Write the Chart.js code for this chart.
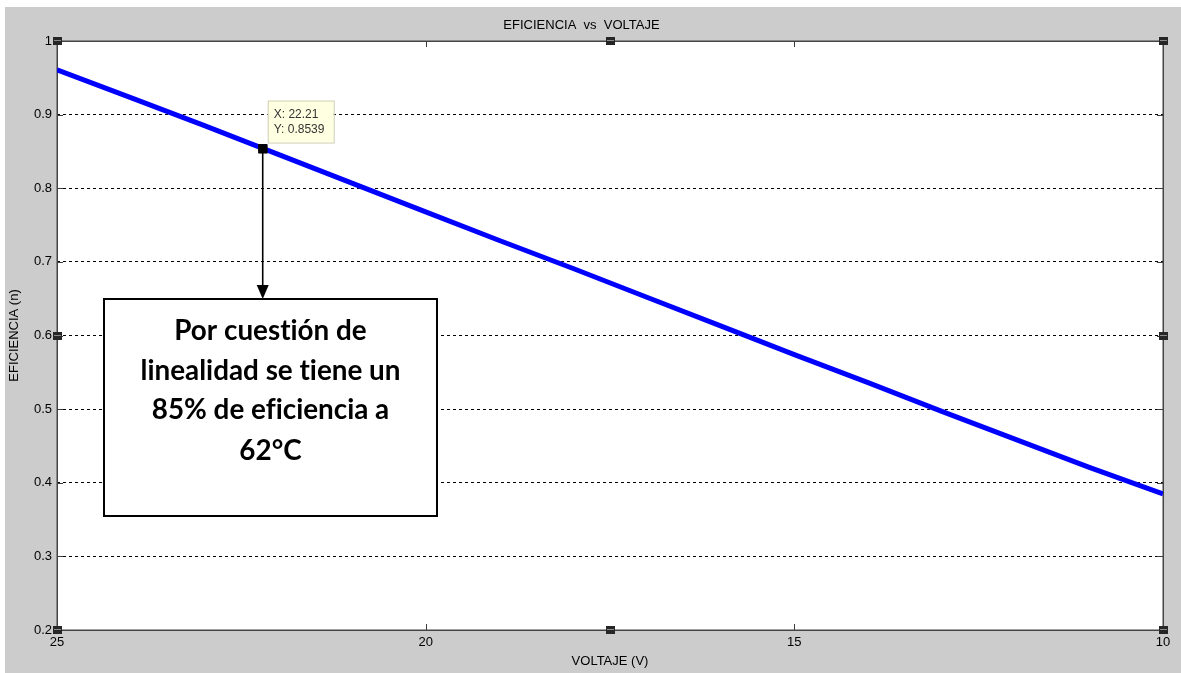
<!DOCTYPE html>
<html>
<head>
<meta charset="utf-8">
<script src="https://cdn.jsdelivr.net/npm/chart.js@4"></script>
<style>
  html, body { margin: 0; padding: 0; background: #ffffff; }
  #wrap { position: relative; width: 1181px; height: 673px; }
</style>
</head>
<body>
<div id="wrap"><canvas id="c" width="1181" height="673"></canvas></div>
<script>
// ---- data ----
const voltaje    = [25, 24, 23, 22, 21, 20, 19, 18, 17, 16, 15, 14, 13, 12, 11, 10];
const eficiencia = [0.961, 0.923, 0.885, 0.846, 0.807, 0.768, 0.729, 0.691, 0.652, 0.613, 0.574, 0.536, 0.497, 0.459, 0.421, 0.385];
const datatipX = [22.21];
const datatipY = [0.8539];
const xTickValues = [25, 20, 15, 10];
const xTickLabels = ['25', '20', '15', '10'];
const yTickValues = [0.2, 0.3, 0.4, 0.5, 0.6, 0.7, 0.8, 0.9, 1];
const yTickLabels = ['0.2', '0.3', '0.4', '0.5', '0.6', '0.7', '0.8', '0.9', '1'];
const titleText = 'EFICIENCIA  vs  VOLTAJE';
const xTitle = 'VOLTAJE (V)';
const yTitle = 'EFICIENCIA (n)';
const noteLines = ['Por cuestión de', 'linealidad se tiene un', '85% de eficiencia a', '62°C'];

const FONT = '"Liberation Sans", Arial, sans-serif';
const NOFONT = 'Lato, "Open Sans", sans-serif';
// break typographic ligatures (ti, fi) when drawing
const noLig = (t) => t.replace(/([tf])([i])/g, '$1\u200C$2');

const bgPlugin = {
  id: 'bg',
  beforeDraw(chart) {
    const ctx = chart.ctx, ca = chart.chartArea;
    ctx.save();
    ctx.fillStyle = '#ffffff';
    ctx.fillRect(0, 0, chart.width, chart.height);
    ctx.fillStyle = '#cccccc';
    ctx.fillRect(5, 7, chart.width - 5, chart.height - 7);
    ctx.fillStyle = '#ffffff';
    ctx.fillRect(ca.left, ca.top, ca.right - ca.left, ca.bottom - ca.top);
    ctx.restore();
  }
};

const framePlugin = {
  id: 'frame',
  beforeDatasetsDraw(chart) {
    const ctx = chart.ctx, ca = chart.chartArea;
    const xs = chart.scales.x, ys = chart.scales.y;
    ctx.save();
    ctx.strokeStyle = '#3c3c3c';
    ctx.lineWidth = 1;
    ctx.beginPath();
    xTickValues.forEach(v => {
      const px = Math.round(xs.getPixelForValue(v)) + 0.5;
      ctx.moveTo(px, ca.bottom); ctx.lineTo(px, ca.bottom - 6);
      ctx.moveTo(px, ca.top); ctx.lineTo(px, ca.top + 6);
    });
    yTickValues.forEach(v => {
      const py = Math.round(ys.getPixelForValue(v)) + 0.5;
      ctx.moveTo(ca.left, py); ctx.lineTo(ca.left + 6, py);
      ctx.moveTo(ca.right, py); ctx.lineTo(ca.right - 6, py);
    });
    ctx.stroke();
    ctx.strokeStyle = '#444444';
    ctx.lineWidth = 1.5;
    ctx.strokeRect(Math.round(ca.left) + 0.25, Math.round(ca.top) + 0.25,
                   Math.round(ca.right - ca.left), Math.round(ca.bottom - ca.top));
    ctx.restore();
  },
  afterDraw(chart) {
    const ctx = chart.ctx, ca = chart.chartArea;
    const mx = (ca.left + ca.right) / 2, my = (ca.top + ca.bottom) / 2;
    const pts = [[ca.left, ca.top], [mx, ca.top], [ca.right, ca.top],
                 [ca.left, my], [ca.right, my],
                 [ca.left, ca.bottom], [mx, ca.bottom], [ca.right, ca.bottom]];
    ctx.save();
    pts.forEach(([x, y]) => {
      const x0 = Math.round(x) - 4, y0 = Math.round(y) - 4;
      ctx.fillStyle = '#262626';
      ctx.fillRect(x0, y0, 9, 8);
      ctx.fillStyle = '#8a8a8a';
      ctx.fillRect(x0 + 1, y0 + 3, 7, 1);
    });
    ctx.restore();
  }
};

const notePlugin = {
  id: 'note',
  beforeDatasetsDraw(chart) {
    const ctx = chart.ctx, ca = chart.chartArea;
    const pt = chart.getDatasetMeta(1).data[0];
    if (!pt) return;
  },
  afterDatasetsDraw(chart) {
    const ctx = chart.ctx, ca = chart.chartArea;
    const pt = chart.getDatasetMeta(1).data[0];
    const px = pt.x, py = pt.y;
    ctx.save();
    const bx = ca.left + 47, by = ca.top + 258, bw = 333, bh = 217;
    // arrow
    ctx.strokeStyle = '#000000';
    ctx.lineWidth = 1.6;
    ctx.beginPath();
    ctx.moveTo(px, py + 4);
    ctx.lineTo(px, by - 12);
    ctx.stroke();
    ctx.fillStyle = '#000000';
    ctx.beginPath();
    ctx.moveTo(px - 6, by - 14);
    ctx.lineTo(px + 6, by - 14);
    ctx.lineTo(px, by);
    ctx.closePath();
    ctx.fill();
    // annotation box
    ctx.fillStyle = '#ffffff';
    ctx.fillRect(bx, by, bw, bh);
    ctx.strokeStyle = '#000000';
    ctx.lineWidth = 2;
    ctx.strokeRect(bx, by, bw, bh);
    let fs = 24;
    ctx.font = 'bold ' + fs + 'px ' + NOFONT;
    const w = ctx.measureText(noLig(noteLines[1])).width;
    fs = fs * 260 / w;
    ctx.font = 'bold ' + fs.toFixed(2) + 'px ' + NOFONT;
    ctx.fillStyle = '#000000';
    ctx.textAlign = 'center';
    ctx.textBaseline = 'middle';
    const cx = bx + bw / 2;
    const lineYs = [32, 72, 111, 152];
    noteLines.forEach((t, i) => ctx.fillText(noLig(t), cx, by + lineYs[i]));
    // datatip
    const tx = px + 5, ty = py - 48, tw = 66, th = 42;
    ctx.fillStyle = '#ffffe1';
    ctx.fillRect(tx, ty, tw, th);
    ctx.strokeStyle = '#cfcfb8';
    ctx.lineWidth = 1;
    ctx.strokeRect(tx + 0.5, ty + 0.5, tw, th);
    ctx.fillStyle = '#333333';
    ctx.font = '12px ' + FONT;
    ctx.textAlign = 'left';
    ctx.textBaseline = 'middle';
    ctx.fillText('X: ' + datatipX[0].toFixed(2), tx + 6, ty + 14);
    ctx.fillText('Y: ' + datatipY[0].toFixed(4), tx + 6, ty + 29);
    // marker on top of arrow start
    ctx.fillStyle = '#000000';
    ctx.fillRect(Math.round(px) - 4.5, Math.round(py) - 4.5, 9, 9);
    ctx.restore();
  }
};

new Chart(document.getElementById('c'), {
  type: 'line',
  data: {
    datasets: [
      {
        data: voltaje.map((v, i) => ({ x: v, y: eficiencia[i] })),
        borderColor: '#0000ff',
        borderWidth: 5,
        pointRadius: 0,
        tension: 0,
        fill: false,
        order: 2
      },
      {
        data: datatipX.map((v, i) => ({ x: v, y: datatipY[i] })),
        showLine: false,
        pointStyle: 'rect',
        pointRadius: 6.4,
        backgroundColor: '#000000',
        borderColor: '#000000',
        borderWidth: 0,
        order: 1
      }
    ]
  },
  options: {
    responsive: false,
    animation: false,
    events: [],
    layout: { padding: { left: 0, right: 18, top: 0, bottom: 0 } },
    plugins: {
      legend: { display: false },
      tooltip: { enabled: false },
      title: {
        display: true,
        text: titleText,
        color: '#000000',
        font: { family: FONT, size: 13, weight: 'normal', lineHeight: 1.2 },
        padding: { top: 17.4, bottom: 8 }
      }
    },
    scales: {
      x: {
        type: 'linear',
        reverse: true,
        min: 10,
        max: 25,
        afterFit(s) { s.height = 43; },
        afterBuildTicks(s) { s.ticks = xTickValues.map(v => ({ value: v })); },
        ticks: {
          padding: 5,
          maxRotation: 0,
          autoSkip: false,
          color: '#000000',
          font: { family: FONT, size: 13 },
          callback: (v) => xTickLabels[xTickValues.indexOf(v)] ?? ''
        },
        grid: { display: false, drawTicks: false },
        border: { display: false },
        title: {
          display: true,
          text: xTitle,
          color: '#000000',
          font: { family: FONT, size: 13, lineHeight: 1.2 },
          padding: { top: 0, bottom: 4.2 }
        }
      },
      y: {
        type: 'linear',
        min: 0.2,
        max: 1,
        afterFit(s) { s.width = 57; },
        afterBuildTicks(s) { s.ticks = yTickValues.map(v => ({ value: v })); },
        ticks: {
          padding: 5,
          autoSkip: false,
          color: '#000000',
          font: { family: FONT, size: 13 },
          callback: (v) => {
            const i = yTickValues.findIndex(t => Math.abs(t - v) < 1e-9);
            return i >= 0 ? yTickLabels[i] : '';
          }
        },
        grid: {
          color: '#000000',
          lineWidth: 1,
          drawTicks: false
        },
        border: { display: false, dash: [3, 3] },
        title: {
          display: true,
          text: yTitle,
          color: '#000000',
          font: { family: FONT, size: 13, lineHeight: 1.2 },
          padding: { top: 6.2, bottom: 0 }
        }
      }
    }
  },
  plugins: [bgPlugin, framePlugin, notePlugin]
});
</script>
</body>
</html>
